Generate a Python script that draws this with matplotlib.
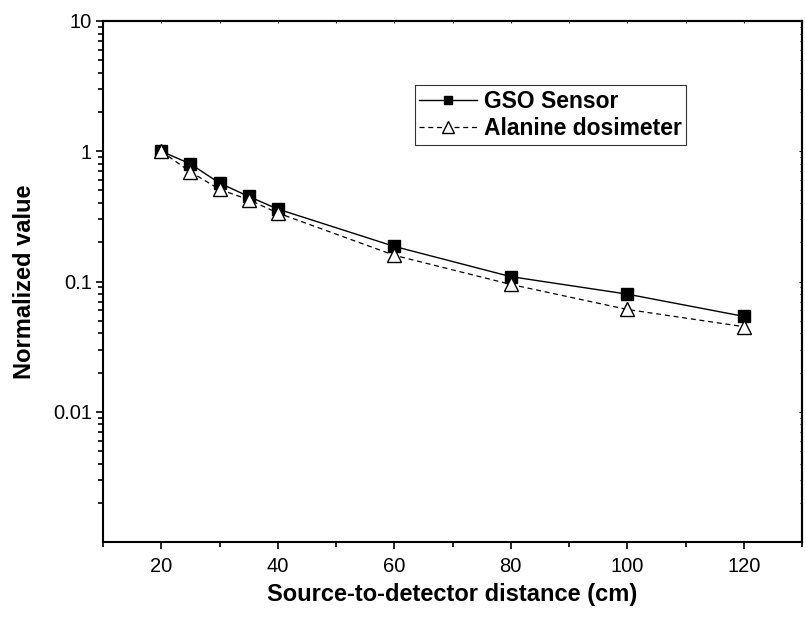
import matplotlib
matplotlib.use("Agg")
import matplotlib.pyplot as plt
from matplotlib.ticker import LogLocator, FixedLocator, MultipleLocator, NullFormatter, FuncFormatter

plt.rcParams['font.family'] = ['Liberation Sans', 'DejaVu Sans']

distance = [20, 25, 30, 35, 40, 60, 80, 100, 120]
gso = [1.0, 0.80, 0.57, 0.45, 0.36, 0.186, 0.109, 0.080, 0.054]
alanine = [1.0, 0.695, 0.51, 0.425, 0.336, 0.159, 0.095, 0.061, 0.045]
ytick_vals = [0.01, 0.1, 1, 10]
ytick_labels = ['0.01', '0.1', '1', '10']
xtick_vals = [20, 40, 60, 80, 100, 120]

fig = plt.figure(figsize=(8.06, 6.23), dpi=100)
ax = fig.add_axes([103/806, 81/623, 699/806, 521/623])

ax.plot(distance, gso, '-', color='black', lw=1.0, marker='s', ms=8,
        mfc='black', mec='black', label='GSO Sensor')
ax.plot(distance, alanine, '--', color='black', lw=0.9, dashes=(4, 3), marker='^', ms=10.5,
        mfc='white', mec='black', mew=1.0, label='Alanine dosimeter')

ax.set_yscale('log')
ax.set_xlim(10, 130)
ax.set_ylim(0.001, 10)

ax.yaxis.set_major_locator(FixedLocator(ytick_vals))
ax.yaxis.set_major_formatter(FuncFormatter(lambda v, p: dict(zip(ytick_vals, ytick_labels)).get(v, '')))
ax.yaxis.set_minor_locator(LogLocator(base=10, subs=range(2, 10), numticks=20))
ax.yaxis.set_minor_formatter(NullFormatter())
ax.xaxis.set_major_locator(FixedLocator(xtick_vals))
ax.xaxis.set_minor_locator(MultipleLocator(10))

for s in ax.spines.values():
    s.set_linewidth(1.5)

ax.tick_params(which='major', direction='out', length=5, width=1.2, labelsize=14.5)
ax.tick_params(axis='x', which='major', pad=6)
ax.tick_params(axis='y', which='major', pad=3)
ax.tick_params(which='minor', direction='out', length=3.5, width=1.2)

# tiny inward ticks on top/right
top = ax.secondary_xaxis('top')
top.xaxis.set_major_locator(FixedLocator(xtick_vals))
top.xaxis.set_minor_locator(MultipleLocator(10))
top.tick_params(which='major', direction='in', length=1.5, width=0.8, labeltop=False)
top.tick_params(which='minor', direction='in', length=1.2, width=0.8)
top.spines['top'].set_linewidth(1.5)

right = ax.secondary_yaxis('right')
right.yaxis.set_major_locator(FixedLocator(ytick_vals))
right.yaxis.set_minor_locator(LogLocator(base=10, subs=range(2, 10), numticks=20))
right.yaxis.set_minor_formatter(NullFormatter())
right.tick_params(which='major', direction='in', length=2, width=0.8, labelright=False)
right.tick_params(which='minor', direction='in', length=1.5, width=0.8)
right.spines['right'].set_linewidth(1.5)

ax.set_xlabel('Source-to-detector distance (cm)', fontsize=17, fontweight='bold', labelpad=5)
ax.set_ylabel('Normalized value', fontsize=17, fontweight='bold', labelpad=12)

leg = ax.legend(loc='upper left', bbox_to_anchor=(0.446, 0.877), borderaxespad=0,
                prop={'weight': 'bold', 'size': 16.5}, frameon=True, fancybox=False,
                edgecolor='black', handlelength=2.5, handletextpad=0.3,
                labelspacing=0.2, borderpad=0.2, markerscale=0.8)
leg.get_frame().set_linewidth(0.8)

fig.savefig('out.png', dpi=100)
